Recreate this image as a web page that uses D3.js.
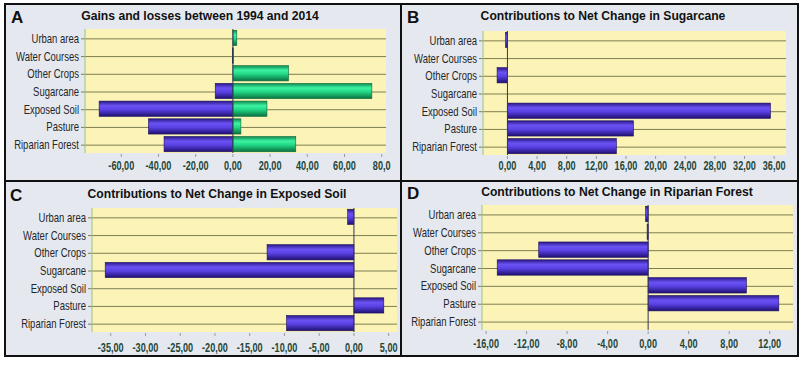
<!DOCTYPE html>
<html lang="en">
<head>
    <meta charset="UTF-8">
    <title>Land change contributions</title>
    <script src="https://d3js.org/d3.v7.min.js"></script>
    <style>
        body { margin: 0; background: #ffffff; }
        .cat { font-family: "Liberation Sans", Arial, sans-serif; font-size: 13px; fill: #262626; }
        .tick-label { font-family: "Liberation Sans", Arial, sans-serif; font-size: 12.5px; font-weight: bold; fill: #1f4638; }
        .title { font-family: "Liberation Sans", Arial, sans-serif; font-size: 13.5px; font-weight: bold; fill: #111; }
        .letter { font-family: "Liberation Sans", Arial, sans-serif; font-size: 17px; font-weight: bold; fill: #111; }
    </style>
</head>
<body>
    <div id="chart"></div>
    <script>
        // categories (top to bottom)
        const categories = ["Urban area", "Water Courses", "Other Crops", "Sugarcane", "Exposed Soil", "Pasture", "Riparian Forest"];

        // A: gains and losses 1994 - 2014
        const gains  = [2.1, 0.2, 29.9, 74.7, 18.3, 4.3, 33.8];
        const losses = [0, -0.3, 0, -9.5, -71.9, -45.4, -37.0];

        // B, C, D: contributions to net change
        const sugarcaneNet   = [-0.25, 0, -1.4, 0, 35.5, 17.0, 14.7];
        const exposedSoilNet = [-0.9, 0, -12.5, -35.8, 0, 4.3, -9.7];
        const riparianNet    = [-0.25, -0.1, -10.8, -14.9, 9.7, 12.9, 0];

        // tick values
        const ticksA = [-60, -40, -20, 0, 20, 40, 60, 80];
        const ticksB = [0, 4, 8, 12, 16, 20, 24, 28, 32, 36];
        const ticksC = [-35, -30, -25, -20, -15, -10, -5, 0, 5];
        const ticksD = [-16, -12, -8, -4, 0, 4, 8, 12];

        const W = 805, H = 366;
        const svg = d3.select("#chart").append("svg")
            .attr("width", W)
            .attr("height", H);

        // gradients for the bars
        const defs = svg.append("defs");
        function addGradient(id, stops) {
            const g = defs.append("linearGradient")
                .attr("id", id)
                .attr("x1", 0).attr("y1", 0).attr("x2", 0).attr("y2", 1);
            stops.forEach(s => g.append("stop").attr("offset", s[0]).attr("stop-color", s[1]));
        }
        addGradient("purple", [[0, "#2a1888"], [0.3, "#6a52f2"], [0.55, "#5b42e6"], [1, "#1f1070"]]);
        addGradient("green", [[0, "#0e8a50"], [0.3, "#3ef2a2"], [0.55, "#22d886"], [1, "#0a7040"]]);

        // panel backgrounds
        svg.append("rect").attr("x", 5).attr("y", 4).attr("width", 793).attr("height", 352).attr("fill", "#e5e9ef");

        // comma decimals, plain hyphen for minus
        const fmt = v => d3.format(".2f")(v).replace(".", ",").replace("\u2212", "-");

        // the original uses a condensed face, so squeeze text horizontally
        const squeeze = (x, y, sx) => `translate(${x},${y}) scale(${sx},1)`;

        function drawPanel(p) {
            const g = svg.append("g");

            const x = d3.scaleLinear().domain(p.domain).range([p.left, p.right]);
            const y = d3.scaleBand()
                .domain(categories)
                .range([p.top, p.bottom])
                .paddingInner(0.14)
                .paddingOuter(0.07);

            // plot area
            g.append("rect")
                .attr("x", p.left).attr("y", p.top)
                .attr("width", p.right - p.left).attr("height", p.bottom - p.top)
                .attr("fill", "#fcf4b6");

            // gridlines through each category
            g.selectAll(".grid")
                .data(categories)
                .enter()
                .append("line")
                .attr("x1", p.left - 4).attr("x2", p.right)
                .attr("y1", d => y(d) + y.bandwidth() / 2 + 1)
                .attr("y2", d => y(d) + y.bandwidth() / 2 + 1)
                .attr("stroke", "#7d7e52")
                .attr("stroke-width", 1);

            // left axis line
            g.append("line")
                .attr("x1", p.left).attr("x2", p.left)
                .attr("y1", p.top).attr("y2", p.bottom)
                .attr("stroke", "#9cc08a").attr("stroke-width", 1);

            // category labels
            g.selectAll(".cat")
                .data(categories)
                .enter()
                .append("text")
                .attr("class", "cat")
                .attr("transform", d => squeeze(p.left - 6, y(d) + y.bandwidth() / 2 + 5, 0.73))
                .attr("text-anchor", "end")
                .text(d => d);

            // x ticks
            g.selectAll(".xt")
                .data(p.ticks)
                .enter()
                .append("line")
                .attr("x1", d => x(d)).attr("x2", d => x(d))
                .attr("y1", p.bottom + 1).attr("y2", p.bottom + 4)
                .attr("stroke", "#9a9a9a");

            g.selectAll(".tick-label")
                .data(p.ticks)
                .enter()
                .append("text")
                .attr("class", "tick-label")
                .attr("transform", d => squeeze(x(d), p.labelY, 0.73))
                .attr("text-anchor", "middle")
                .text(d => p.tickFormat ? p.tickFormat(d) : fmt(d));

            // bars
            p.series.forEach(s => {
                g.selectAll(null)
                    .data(s.values.map((v, i) => ({ cat: categories[i], v: v })))
                    .enter()
                    .append("rect")
                    .attr("x", d => x(Math.min(0, d.v)))
                    .attr("width", d => Math.abs(x(d.v) - x(0)))
                    .attr("y", d => y(d.cat))
                    .attr("height", y.bandwidth())
                    .attr("fill", `url(#${s.color})`)
                    .attr("stroke", s.color === "green" ? "#0b6a3c" : "#1a0e60")
                    .attr("stroke-width", 0.6);
            });

            // zero line
            g.append("line")
                .attr("x1", x(0)).attr("x2", x(0))
                .attr("y1", p.top).attr("y2", p.bottom)
                .attr("stroke", "#33335a").attr("stroke-width", 1);

            // title and panel letter
            g.append("text")
                .attr("class", "title")
                .attr("transform", squeeze(p.titleX, p.titleY, 0.9))
                .attr("text-anchor", "middle")
                .text(p.title);

            g.append("text")
                .attr("class", "letter")
                .attr("x", p.letterX)
                .attr("y", p.titleY + 3)
                .text(p.letter);
        }

        drawPanel({
            letter: "A", title: "Gains and losses between 1994 and 2014",
            left: 85, right: 386, top: 29, bottom: 153, labelY: 170,
            domain: [-79.5, 82.3], ticks: ticksA,
            tickFormat: d => d === 80 ? "80,0" : fmt(d),
            titleX: 200, titleY: 20, letterX: 11,
            series: [{ values: losses, color: "purple" }, { values: gains, color: "green" }]
        });

        drawPanel({
            letter: "B", title: "Contributions to Net Change in Sugarcane",
            left: 483, right: 786, top: 31, bottom: 155, labelY: 170,
            domain: [-3.3, 37.6], ticks: ticksB,
            titleX: 603, titleY: 20, letterX: 407,
            series: [{ values: sugarcaneNet, color: "purple" }]
        });

        drawPanel({
            letter: "C", title: "Contributions to Net Change in Exposed Soil",
            left: 92, right: 397, top: 208, bottom: 332, labelY: 352,
            domain: [-37.7, 6.2], ticks: ticksC,
            titleX: 217, titleY: 198, letterX: 10,
            series: [{ values: exposedSoilNet, color: "purple" }]
        });

        drawPanel({
            letter: "D", title: "Contributions to Net Change in Riparian Forest",
            left: 482, right: 793, top: 205, bottom: 330, labelY: 348,
            domain: [-16.4, 14.3], ticks: ticksD,
            titleX: 617, titleY: 196, letterX: 407,
            series: [{ values: riparianNet, color: "purple" }]
        });

        // frame and dividers
        svg.append("rect").attr("x", 5).attr("y", 4).attr("width", 793).attr("height", 352)
            .attr("fill", "none").attr("stroke", "#111").attr("stroke-width", 2);
        svg.append("line").attr("x1", 401).attr("x2", 401).attr("y1", 4).attr("y2", 356)
            .attr("stroke", "#111").attr("stroke-width", 2);
        svg.append("line").attr("x1", 5).attr("x2", 798).attr("y1", 181).attr("y2", 181)
            .attr("stroke", "#111").attr("stroke-width", 2);
    </script>
</body>
</html>
